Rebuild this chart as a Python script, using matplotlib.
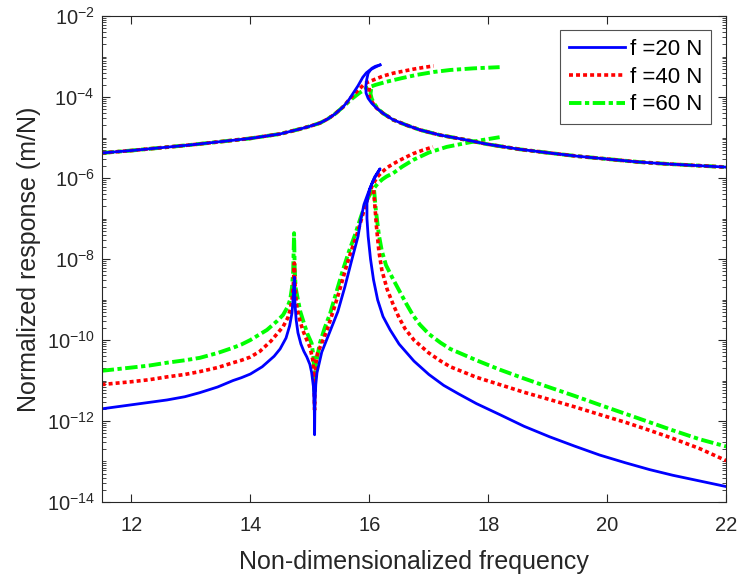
import matplotlib
matplotlib.use("Agg")
import matplotlib.pyplot as plt
import matplotlib.ticker as mticker
from matplotlib.lines import Line2D
import numpy as np

plt.rcParams['font.family'] = ['Liberation Sans', 'DejaVu Sans']
plt.rcParams['mathtext.default'] = 'regular'

# ---------------- data (y given as log10 of response, m/N) ----------------
# Upper branch, left part shared by all three forces
up_common_x   = [11.50, 12.00, 12.50, 13.00, 13.50, 14.00, 14.50, 14.83, 15.00, 15.17, 15.30, 15.42, 15.56]
up_common_lg  = [-5.38, -5.32, -5.25, -5.18, -5.10, -5.02, -4.91, -4.79, -4.72, -4.64, -4.54, -4.42, -4.24]

# f = 20 N : upper branch up to its peak, then turning back and the decreasing part
f20_up_x  = [15.65, 15.73, 15.81, 15.89, 15.95, 16.01, 16.10, 16.18]
f20_up_lg = [-4.08, -3.90, -3.72, -3.51, -3.40, -3.33, -3.26, -3.205]
f20_upr_x  = [16.18, 16.10, 16.04, 15.98, 15.955, 15.94, 15.945, 15.98, 16.04, 16.12, 16.23, 16.40,
              16.62, 16.85, 17.18, 17.64, 17.97, 18.53, 19.03, 19.50, 20.00, 20.50, 21.00, 21.50, 22.00]
f20_upr_lg = [-3.205, -3.24, -3.29, -3.41, -3.575, -3.74, -3.90, -4.03, -4.15, -4.27, -4.40, -4.56,
              -4.69, -4.81, -4.935, -5.06, -5.16, -5.29, -5.38, -5.46, -5.53, -5.60, -5.65, -5.69, -5.73]

# f = 40 N upper branch
f40_up_x  = [15.68, 15.81, 15.93, 16.07, 16.23, 16.40, 16.57, 16.74, 16.90, 17.08]
f40_up_lg = [-4.03, -3.83, -3.66, -3.575, -3.48, -3.41, -3.36, -3.31, -3.27, -3.23]
f40_upr_x  = [16.00, 15.99, 16.01, 16.06, 16.12, 16.23, 16.40, 16.62, 16.85, 17.18, 17.64, 17.97,
              18.53, 19.03, 19.50, 20.00, 20.50, 21.00, 21.50, 22.00]
f40_upr_lg = [-3.77, -3.90, -4.03, -4.15, -4.27, -4.40, -4.56, -4.69, -4.81, -4.935, -5.06, -5.16,
              -5.29, -5.38, -5.46, -5.53, -5.60, -5.65, -5.69, -5.73]

# f = 60 N upper branch
f60_up_x  = [15.70, 15.83, 15.955, 16.10, 16.29, 16.55, 16.80, 17.08, 17.36, 17.75, 18.19]
f60_up_lg = [-4.05, -3.90, -3.78, -3.70, -3.62, -3.53, -3.45, -3.38, -3.33, -3.29, -3.26]
f60_upr_x  = [16.03, 16.02, 16.04, 16.08, 16.14, 16.23, 16.40, 16.62, 16.85, 17.18, 17.64, 17.97,
              18.53, 19.03, 19.50, 20.00, 20.50, 21.00, 21.50, 22.00]
f60_upr_lg = [-3.80, -3.92, -4.04, -4.16, -4.28, -4.40, -4.56, -4.69, -4.81, -4.935, -5.06, -5.16,
              -5.29, -5.38, -5.46, -5.53, -5.60, -5.65, -5.69, -5.73]

# Lower branch, f = 20 N (continuous: rise, peak, dip, peak, turn back, decay)
f20_lo_x  = [11.50, 12.00, 12.30, 12.60, 12.90, 13.15, 13.45, 13.71, 13.85, 14.00, 14.20, 14.40, 14.50, 14.60,
             14.66, 14.70, 14.72, 14.74,
             14.75, 14.77, 14.80, 14.85, 14.90, 14.95, 15.00, 15.03, 15.06, 15.075, 15.08,
             15.085, 15.10, 15.12, 15.20, 15.37, 15.47, 15.59, 15.70, 15.81, 15.86, 15.91, 15.96, 16.01, 16.09, 16.18,
             16.12, 16.06, 16.01, 15.98, 15.96, 15.96, 15.98, 16.02, 16.07, 16.14, 16.23, 16.35, 16.50, 16.75,
             17.00, 17.25, 17.50, 17.80, 18.19, 18.60, 19.03, 19.45, 19.87, 20.30, 20.71, 21.10, 21.55, 22.00]
f20_lo_lg = [-11.70, -11.60, -11.54, -11.48, -11.40, -11.30, -11.16, -11.00, -10.93, -10.84, -10.66, -10.40, -10.22, -9.95,
             -9.65, -9.33, -8.95, -8.45,
             -9.10, -9.50, -9.82, -10.10, -10.28, -10.42, -10.60, -10.80, -11.15, -11.70, -12.34,
             -11.60, -11.10, -10.81, -10.30, -9.67, -9.30, -8.68, -8.05, -7.44, -7.00, -6.65, -6.45, -6.25, -5.97, -5.77,
             -5.92, -6.08, -6.27, -6.45, -6.62, -7.00, -7.44, -8.00, -8.51, -9.01, -9.42, -9.75, -10.10, -10.52,
             -10.85, -11.12, -11.33, -11.57, -11.84, -12.13, -12.39, -12.62, -12.84, -13.03, -13.20, -13.34, -13.48, -13.62]

# Lower branch, f = 40 N : rise, peak, dip, rise up to the end point
f40_lo_x  = [11.50, 12.00, 12.30, 12.60, 12.90, 13.15, 13.45, 13.71, 13.85, 14.00, 14.16, 14.35, 14.55, 14.63,
             14.67, 14.70, 14.72, 14.74,
             14.75, 14.77, 14.79, 14.83, 14.88, 14.94, 15.00, 15.05, 15.07, 15.08,
             15.085, 15.10, 15.13, 15.20, 15.29, 15.40, 15.51, 15.62, 15.70, 15.79, 15.88, 15.94, 15.98, 16.05,
             16.13, 16.20, 16.30, 16.40, 16.51, 16.62, 16.73, 16.90, 17.07]
f40_lo_lg = [-11.10, -11.03, -10.98, -10.91, -10.85, -10.78, -10.68, -10.56, -10.50, -10.42, -10.28, -10.02, -9.67, -9.45,
             -9.25, -9.00, -8.70, -8.10,
             -8.60, -9.05, -9.25, -9.50, -9.75, -9.97, -10.17, -10.49, -10.93, -11.72,
             -11.00, -10.60, -10.32, -10.08, -9.75, -9.25, -8.72, -8.15, -7.78, -7.40, -6.95, -6.65, -6.46, -6.18,
             -5.98, -5.87, -5.74, -5.65, -5.56, -5.48, -5.40, -5.31, -5.23]
f40_lor_x  = [16.07, 16.09, 16.12, 16.16, 16.21, 16.30, 16.40, 16.50, 16.60, 16.75, 17.00, 17.20, 17.36,
              17.80, 18.19, 18.60, 19.03, 19.45, 19.87, 20.30, 20.71, 21.10, 21.55, 22.00]
f40_lor_lg = [-6.30, -6.62, -7.20, -7.80, -8.27, -8.75, -9.12, -9.45, -9.72, -10.00, -10.32, -10.52, -10.66,
              -10.92, -11.10, -11.29, -11.47, -11.65, -11.84, -12.03, -12.23, -12.43, -12.68, -12.98]

# Lower branch, f = 60 N
f60_lo_x  = [11.50, 12.00, 12.30, 12.60, 12.90, 13.15, 13.45, 13.71, 13.85, 14.00, 14.28, 14.45, 14.55, 14.62,
             14.67, 14.70, 14.72, 14.735,
             14.745, 14.76, 14.79, 14.84, 14.90, 14.96, 15.03, 15.06, 15.075, 15.08,
             15.085, 15.10, 15.17, 15.25, 15.34, 15.46, 15.56, 15.66, 15.76, 15.86, 15.96, 16.05, 16.15, 16.22,
             16.29, 16.40, 16.55, 16.74, 17.00, 17.30, 17.64, 17.90, 18.19]
f60_lo_lg = [-10.76, -10.68, -10.63, -10.56, -10.50, -10.44, -10.32, -10.19, -10.11, -10.00, -9.75, -9.53, -9.38, -9.20,
             -9.00, -8.70, -8.30, -7.36,
             -8.20, -8.70, -8.93, -9.30, -9.58, -9.85, -10.08, -10.40, -10.80, -11.31,
             -10.90, -10.60, -10.07, -9.70, -9.35, -8.75, -8.25, -7.80, -7.40, -6.95, -6.54, -6.30, -6.12, -6.03,
             -5.96, -5.88, -5.72, -5.55, -5.37, -5.23, -5.13, -5.06, -4.99]
f60_lor_x  = [16.08, 16.11, 16.16, 16.21, 16.28, 16.40, 16.51, 16.62, 16.73, 16.85, 17.00, 17.20, 17.36,
              17.80, 18.19, 18.60, 19.03, 19.45, 19.87, 20.30, 20.71, 21.10, 21.55, 22.00]
f60_lor_lg = [-6.30, -6.80, -7.40, -7.80, -8.15, -8.50, -8.80, -9.10, -9.38, -9.62, -9.85, -10.07, -10.22,
              -10.50, -10.73, -10.95, -11.17, -11.38, -11.60, -11.82, -12.03, -12.23, -12.45, -12.63]

labels = ['f =20 N', 'f =40 N', 'f =60 N']
xticks = [12, 14, 16, 18, 20, 22]
yticks_exp = [-14, -12, -10, -8, -6, -4, -2]


def resp(lg):
    return np.power(10.0, np.asarray(lg, dtype=float))


# ---------------- plot ----------------
fig = plt.figure(figsize=(7.4, 5.76), dpi=100)
ax = fig.add_axes([0.1373, 0.1285, 0.8442, 0.8435])

blue = dict(color=(0, 0, 1), ls='-', lw=2.0)
red = dict(color=(1, 0, 0), ls=(0, (1.1, 0.85)), lw=2.6, dash_capstyle='butt')
green = dict(color=(0, 1, 0), ls=(0, (3.2, 0.9, 1.1, 0.9)), lw=2.8, dash_capstyle='butt')

ax.plot(up_common_x + f60_up_x, resp(up_common_lg + f60_up_lg), **green)
ax.plot(f60_upr_x, resp(f60_upr_lg), **green)
ax.plot(f60_lo_x, resp(f60_lo_lg), **green)
ax.plot(f60_lor_x, resp(f60_lor_lg), **green)

ax.plot(up_common_x + f40_up_x, resp(up_common_lg + f40_up_lg), **red)
ax.plot(f40_upr_x, resp(f40_upr_lg), **red)
ax.plot(f40_lo_x, resp(f40_lo_lg), **red)
ax.plot(f40_lor_x, resp(f40_lor_lg), **red)

ax.plot(up_common_x + f20_up_x, resp(up_common_lg + f20_up_lg), **blue)
ax.plot(f20_upr_x, resp(f20_upr_lg), **blue)
ax.plot(f20_lo_x, resp(f20_lo_lg), **blue)

ax.set_yscale('log')
ax.set_xlim(11.5, 22)
ax.set_ylim(1e-14, 1e-2)
ax.set_xticks(xticks)
ax.yaxis.set_major_locator(mticker.FixedLocator([10.0 ** e for e in yticks_exp]))
ax.yaxis.set_major_formatter(mticker.FuncFormatter(
    lambda v, p: r'$10^{%d}$' % int(round(np.log10(v)))))
ax.yaxis.set_minor_locator(mticker.LogLocator(base=10, subs=np.arange(1, 10), numticks=50))
ax.yaxis.set_minor_formatter(mticker.NullFormatter())

tc = (0.15, 0.15, 0.15)
for s in ax.spines.values():
    s.set_color(tc)
    s.set_linewidth(0.8)
ax.tick_params(which='both', direction='in', top=True, right=True, colors=tc, labelcolor=tc)
ax.tick_params(which='major', length=6, labelsize=14.5)
ax.tick_params(which='minor', length=3)
ax.tick_params(axis='x', pad=10)
ax.tick_params(axis='y', pad=5)

ax.set_xlabel('Non-dimensionalized frequency', fontsize=18, color=tc, labelpad=11)
ax.set_ylabel('Normalized response (m/N)', fontsize=18, color=tc, labelpad=4)

handles = [Line2D([], [], **blue), Line2D([], [], **red), Line2D([], [], **green)]
leg = ax.legend(handles, labels, loc='upper right', bbox_to_anchor=(0.9755, 0.971),
                fontsize=16, frameon=True, fancybox=False, edgecolor=tc,
                handlelength=2.5, handletextpad=0.22, borderpad=0.4, labelspacing=0.3,
                borderaxespad=0.0)
leg.get_frame().set_linewidth(0.8)

fig.savefig('out.png', dpi=100)
